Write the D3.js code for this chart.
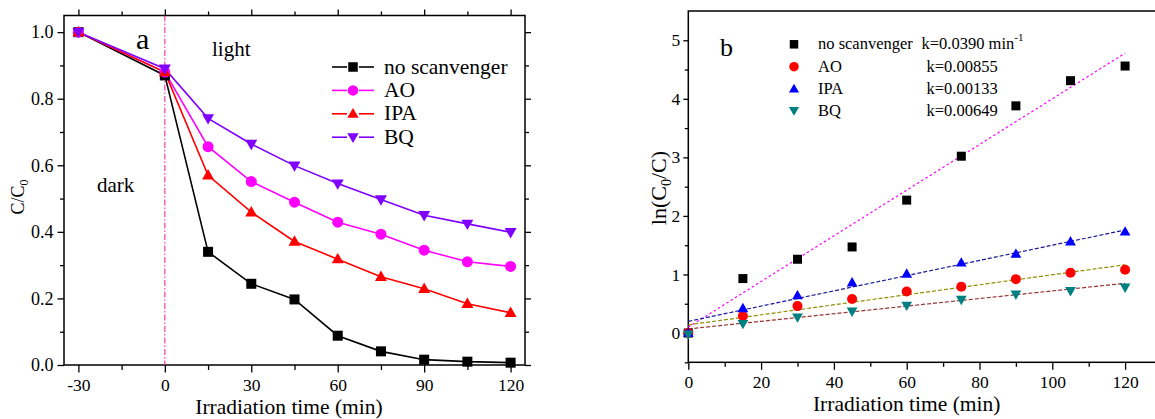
<!DOCTYPE html>
<html><head><meta charset="utf-8">
<script src="https://cdn.jsdelivr.net/npm/d3@7"></script>
<style>
html,body{margin:0;padding:0;background:#fff;}
svg text{font-family:"Liberation Serif","Times New Roman",serif !important;fill:#000;}
</style></head>
<body><svg id="c" width="1155" height="419"></svg>
<script>
// ---- data: panel a ----
const timesA = [-30, 0, 15, 30, 45, 60, 75, 90, 105, 120];
const noScav = [1.0, 0.87, 0.34, 0.244, 0.197, 0.088, 0.041, 0.016, 0.010, 0.007];
const aoA    = [1.0, 0.88, 0.656, 0.551, 0.489, 0.429, 0.393, 0.345, 0.310, 0.296];
const ipaA   = [1.0, 0.88, 0.570, 0.459, 0.371, 0.318, 0.265, 0.229, 0.184, 0.157];
const bqA    = [1.0, 0.89, 0.741, 0.664, 0.599, 0.545, 0.497, 0.450, 0.424, 0.399];
const namesA = ["no scanvenger", "AO", "IPA", "BQ"];
const xTicksA = [-30, 0, 30, 60, 90, 120];
const yTicksA = [0.0, 0.2, 0.4, 0.6, 0.8, 1.0];
// ---- data: panel b ----
const timesB = [0, 15, 30, 45, 60, 75, 90, 105, 120];
const lnNo  = [0, 0.93, 1.26, 1.47, 2.27, 3.02, 3.88, 4.31, 4.56];
const lnAO  = [0, 0.29, 0.46, 0.58, 0.71, 0.79, 0.92, 1.03, 1.08];
const lnIPA = [0, 0.42, 0.64, 0.86, 1.01, 1.20, 1.35, 1.56, 1.73];
const lnBQ  = [-0.02, 0.16, 0.27, 0.37, 0.47, 0.57, 0.66, 0.72, 0.78];
const kLabels = ["k=0.0390 min", "k=0.00855", "k=0.00133", "k=0.00649"];
const fitIntercepts = [0.10, 0.14, 0.20, 0.07];
const fitSlopes = [0.0390, 0.00855, 0.0130, 0.00649];
const xTicksB = [0, 20, 40, 60, 80, 100, 120];
const yTicksB = [0, 1, 2, 3, 4, 5];

const FONT = '"Liberation Serif","Times New Roman",serif';
const svg = d3.select("#c");

// ================= Panel a =================
const xa = d3.scaleLinear().domain([-35, 125]).range([64, 525]);
const ya = d3.scaleLinear().domain([0, 1.05]).range([365, 15.5]);
const gA = svg.append("g");

function styleAxis(g, fs){
  g.attr("font-family", FONT);
  g.select(".domain").remove();
  g.selectAll("line").attr("stroke","#000").attr("stroke-width",1.3);
  g.selectAll("text").style("font-size", fs+"px").style("font-family", FONT).attr("fill","#000");
}
const fmtInt = d => String(d);
// minor ticks
const minorXA = d3.range(-30, 121, 15).filter(v => v % 30 !== 0);
const minorYA = [0.1, 0.3, 0.5, 0.7, 0.9];
gA.append("g").attr("transform","translate(0,365)")
  .call(d3.axisBottom(xa).tickValues(minorXA).tickSize(5).tickFormat("")).call(g=>styleAxis(g,17));
gA.append("g").attr("transform","translate(0,365)")
  .call(d3.axisBottom(xa).tickValues(xTicksA).tickSize(7.5).tickPadding(6).tickFormat(fmtInt)).call(g=>styleAxis(g,17.5));
gA.append("g").attr("transform","translate(0,15.5)")
  .call(d3.axisTop(xa).tickValues(minorXA).tickSize(4).tickFormat("")).call(g=>styleAxis(g,17));
gA.append("g").attr("transform","translate(0,15.5)")
  .call(d3.axisTop(xa).tickValues(xTicksA).tickSize(6).tickFormat("")).call(g=>styleAxis(g,17));
gA.append("g").attr("transform","translate(64,0)")
  .call(d3.axisLeft(ya).tickValues(minorYA).tickSize(4).tickFormat("")).call(g=>styleAxis(g,17));
gA.append("g").attr("transform","translate(64,0)")
  .call(d3.axisLeft(ya).tickValues(yTicksA).tickSize(6.5).tickPadding(4).tickFormat(d3.format(".1f"))).call(g=>styleAxis(g,18));
gA.append("g").attr("transform","translate(525,0)")
  .call(d3.axisRight(ya).tickValues(minorYA).tickSize(4).tickFormat("")).call(g=>styleAxis(g,17));
gA.append("g").attr("transform","translate(525,0)")
  .call(d3.axisRight(ya).tickValues(yTicksA).tickSize(6).tickFormat("")).call(g=>styleAxis(g,17));
gA.append("rect").attr("x",64).attr("y",15.5).attr("width",525-64).attr("height",365-15.5)
  .attr("fill","none").attr("stroke","#000").attr("stroke-width",1.5);

// vertical dash-dot line at t=0
gA.append("line").attr("x1",xa(0)).attr("x2",xa(0)).attr("y1",15.5).attr("y2",365)
  .attr("stroke","#ff1493").attr("stroke-width",1).attr("stroke-dasharray","6,2,1.5,2");

const colorsA = ["#000000", "#ff00ff", "#ff0000", "#7f00ff"];
const seriesA = [noScav, aoA, ipaA, bqA];
const shapes = ["square","circle","triUp","triDown"];
function marker(g, shape, x, y, s, color){
  if(shape==="square"){
    g.append("rect").attr("x",x-s/2).attr("y",y-s/2).attr("width",s).attr("height",s).attr("fill",color);
  } else if(shape==="circle"){
    g.append("circle").attr("cx",x).attr("cy",y).attr("r",s/2+0.5).attr("fill",color);
  } else if(shape==="triUp"){
    const h = s*1.0, w = s*1.2;
    g.append("path").attr("d",`M${x},${y-h*0.62}L${x+w/2},${y+h*0.42}L${x-w/2},${y+h*0.42}Z`).attr("fill",color);
  } else {
    const h = s*1.0, w = s*1.2;
    g.append("path").attr("d",`M${x},${y+h*0.62}L${x+w/2},${y-h*0.42}L${x-w/2},${y-h*0.42}Z`).attr("fill",color);
  }
}
const line = d3.line().x(d=>xa(d[0])).y(d=>ya(d[1]));
seriesA.forEach((s,i)=>{
  const pts = timesA.map((t,j)=>[t,s[j]]);
  gA.append("path").attr("d",line(pts)).attr("fill","none").attr("stroke",colorsA[i]).attr("stroke-width",1.6);
});
seriesA.forEach((s,i)=>{
  timesA.forEach((t,j)=> marker(gA, shapes[i], xa(t), ya(s[j]), 10, colorsA[i]));
});
// legend a
namesA.forEach((n,i)=>{
  const y = 67 + i*23.4;
  gA.append("line").attr("x1",332).attr("x2",347).attr("y1",y).attr("y2",y).attr("stroke",colorsA[i]).attr("stroke-width",1.6);
  gA.append("line").attr("x1",359).attr("x2",374).attr("y1",y).attr("y2",y).attr("stroke",colorsA[i]).attr("stroke-width",1.6);
  marker(gA, shapes[i], 353, y, 9.5, colorsA[i]);
  gA.append("text").attr("x",384).attr("y",y+6.5).style("font-size","21.5px").text(n);
});
gA.append("text").attr("x",136).attr("y",49).style("font-size","30px").text("a");
gA.append("text").attr("x",212).attr("y",56).style("font-size","21px").text("light");
gA.append("text").attr("x",97).attr("y",192).style("font-size","21px").text("dark");
const yla = gA.append("text").attr("transform","translate(24,197) rotate(-90)").attr("text-anchor","middle").style("font-size","18px");
yla.append("tspan").text("C/C");
yla.append("tspan").attr("dy",4).style("font-size","12px").text("0");
gA.append("text").attr("x",289).attr("y",414).attr("text-anchor","middle").style("font-size","21.5px").text("Irradiation time (min)");

// ================= Panel b =================
const xb = d3.scaleLinear().domain([0, 130]).range([688.3, 688.3 + 130*3.64]);
const yb = d3.scaleLinear().domain([-0.5, 5.5]).range([362.3, 11]);
const gB = svg.append("g");
const minorXB = [10,30,50,70,90,110];
const minorYB = [-0.5,0.5,1.5,2.5,3.5,4.5];
gB.append("g").attr("transform","translate(0,362.3)")
  .call(d3.axisBottom(xb).tickValues(minorXB).tickSize(4.5).tickFormat("")).call(g=>styleAxis(g,17));
gB.append("g").attr("transform","translate(0,362.3)")
  .call(d3.axisBottom(xb).tickValues(xTicksB).tickSize(7.5).tickPadding(6).tickFormat(fmtInt)).call(g=>styleAxis(g,17.5));
gB.append("g").attr("transform","translate(688.3,0)")
  .call(d3.axisLeft(yb).tickValues(minorYB).tickSize(3.5).tickFormat("")).call(g=>styleAxis(g,17));
gB.append("g").attr("transform","translate(688.3,0)")
  .call(d3.axisLeft(yb).tickValues(yTicksB).tickSize(5).tickPadding(3).tickFormat(fmtInt)).call(g=>styleAxis(g,17.5));
gB.append("rect").attr("x",688.3).attr("y",11).attr("width",xb(130)-688.3).attr("height",362.3-11)
  .attr("fill","none").attr("stroke","#000").attr("stroke-width",1.5);

const fitColors = ["#ff00ff", "#8f8f00", "#1a1a99", "#993333"];
const fitDash = ["2.5,2.5", "4,2", "4,2", "4,2"];
fitSlopes.forEach((k,i)=>{
  gB.append("line").attr("x1",xb(0)).attr("y1",yb(fitIntercepts[i]))
    .attr("x2",xb(120)).attr("y2",yb(fitIntercepts[i]+k*120))
    .attr("stroke",fitColors[i]).attr("stroke-width",1.2).attr("stroke-dasharray",fitDash[i]);
});
const colorsB = ["#000000", "#ff0000", "#0000ff", "#008080"];
const seriesB = [lnNo, lnAO, lnIPA, lnBQ];
[0,1,2,3].forEach(i=>{
  timesB.forEach((t,j)=> marker(gB, shapes[i], xb(t), yb(seriesB[i][j]), 9, colorsB[i]));
});
namesA.forEach((n,i)=>{
  const y = [44.3, 66.7, 89, 110.5][i];
  marker(gB, shapes[i], 794, y, 8.5, colorsB[i]);
  gB.append("text").attr("x",818).attr("y",y+5).style("font-size","16.5px").text(n);
  const kx = i===0 ? 921.5 : 926.5;
  const kt = gB.append("text").attr("x",kx).attr("y",y+5).style("font-size","16.5px").text(kLabels[i]);
  if(i===0) kt.append("tspan").attr("dy",-8).style("font-size","11px").text("-1");
});
gB.append("text").attr("x",720).attr("y",56).style("font-size","26px").text("b");
const ylb = gB.append("text").attr("transform","translate(666,188) rotate(-90)").attr("text-anchor","middle").style("font-size","22px");
ylb.append("tspan").text("ln(C");
ylb.append("tspan").attr("dy",5).style("font-size","14px").text("0");
ylb.append("tspan").attr("dy",-5).text("/C)");
gB.append("text").attr("x",xb(60)).attr("y",411).attr("text-anchor","middle").style("font-size","21.5px").text("Irradiation time (min)");
</script></body></html>
